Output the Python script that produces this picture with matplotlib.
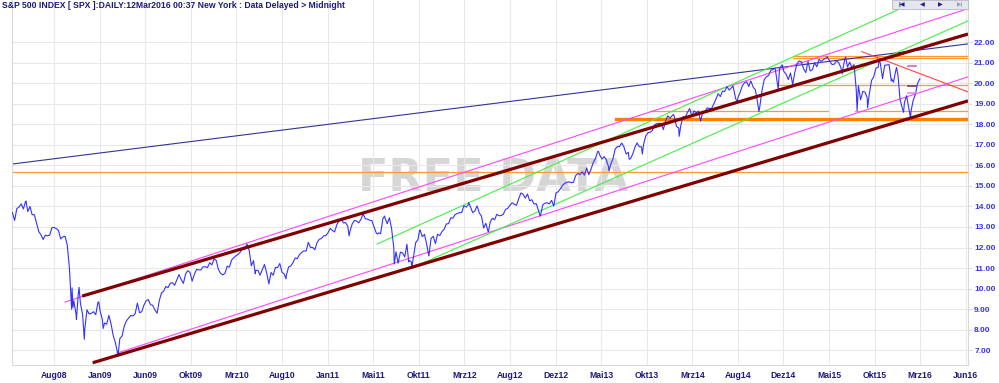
import numpy as np
import pandas as pd
from matplotlib import pyplot as plt
from matplotlib.patches import Rectangle

plt.rcParams['font.family'] = ['Liberation Sans', 'DejaVu Sans']

# S&P 500 weekly closes (Fridays), index points
spx_first_friday = '2008-04-04'
spx_2008 = [1370, 1332, 1390, 1397, 1413, 1388, 1425, 1375, 1400, 1360, 1360, 1318, 1278,
            1262, 1239, 1260, 1257, 1260, 1296, 1298, 1292, 1283, 1242, 1252, 1255, 1213,
            1099, 899, 940, 877, 968, 930, 873, 800, 896, 876, 879, 887, 872]
spx_2009 = [932, 890, 850, 832, 826, 869, 827, 770, 735, 683, 756, 768, 816, 842, 856, 869, 866,
            877, 929, 882, 887, 919, 940, 946, 921, 918, 896, 879, 940, 979, 987, 1010, 1004,
            1026, 1028, 1016, 1042, 1068, 1044, 1025, 1071, 1087, 1079, 1036, 1069, 1093, 1091,
            1091, 1106, 1106, 1102, 1126]
spx_2010 = [1115, 1145, 1136, 1092, 1074, 1066, 1075, 1109, 1104, 1139, 1150, 1160, 1167, 1178,
            1194, 1192, 1217, 1187, 1111, 1136, 1088, 1089, 1065, 1092, 1117, 1076, 1023, 1078,
            1065, 1103, 1102, 1122, 1079, 1071, 1065, 1105, 1110, 1126, 1149, 1146, 1166, 1176,
            1183, 1183, 1225, 1200, 1200, 1189, 1225, 1240, 1244, 1257, 1258]
spx_2011 = [1272, 1293, 1283, 1276, 1311, 1329, 1343, 1320, 1321, 1304, 1279, 1314, 1332, 1329,
            1320, 1337, 1364, 1340, 1338, 1333, 1331, 1300, 1271, 1271, 1268, 1340, 1344, 1316,
            1345, 1292, 1199, 1179, 1124, 1177, 1174, 1154, 1216, 1136, 1131, 1155, 1224, 1238,
            1285, 1253, 1264, 1216, 1159, 1244, 1255, 1219, 1265, 1258]
spx_2012 = [1278, 1289, 1315, 1316, 1345, 1343, 1361, 1366, 1370, 1371, 1404, 1397, 1408, 1398,
            1370, 1378, 1403, 1369, 1353, 1295, 1318, 1278, 1325, 1343, 1335, 1362, 1355, 1356,
            1363, 1386, 1391, 1406, 1418, 1411, 1406, 1438, 1466, 1460, 1441, 1461, 1428, 1433,
            1412, 1414, 1380, 1359, 1409, 1416, 1418, 1413, 1430, 1402]
spx_2013 = [1466, 1472, 1486, 1503, 1513, 1518, 1520, 1516, 1518, 1551, 1561, 1556, 1569, 1553,
            1588, 1555, 1582, 1614, 1634, 1667, 1650, 1631, 1643, 1627, 1593, 1606, 1632, 1680,
            1692, 1692, 1710, 1691, 1656, 1664, 1633, 1655, 1688, 1710, 1692, 1691, 1704, 1745,
            1760, 1762, 1771, 1798, 1804, 1806, 1805, 1775, 1818, 1842]
spx_2014 = [1831, 1843, 1839, 1790, 1783, 1797, 1838, 1836, 1859, 1878, 1841, 1866, 1857, 1865,
            1816, 1864, 1863, 1881, 1878, 1878, 1900, 1924, 1950, 1936, 1963, 1961, 1985, 1968,
            1978, 1978, 1925, 1931, 1955, 1988, 2003, 2008, 1985, 2010, 1982, 1968, 1906, 1887,
            1965, 2018, 2032, 2039, 2064, 2068, 2075, 2003, 2071, 2089]
spx_2015 = [2058, 2045, 2019, 2051, 1995, 2055, 2097, 2110, 2105, 2071, 2053, 2108, 2061, 2067,
            2102, 2081, 2117, 2108, 2116, 2123, 2126, 2107, 2092, 2094, 2110, 2102, 2077, 2077,
            2127, 2080, 2104, 2078, 2092, 1971, 1989, 1921, 1961, 1958, 1931, 1951, 2015, 2033,
            2075, 2079, 2099, 2023, 2089, 2090, 2092, 2012, 2006, 2061]
spx_2016 = [2044, 1922, 1880, 1907, 1940, 1880, 1865, 1918, 1948, 2000, 2022]

# daily highs/lows between the weekly closes
spx_daily_extremes = [
    ('2008-05-19', 1426.6), ('2008-10-13', 1003.4), ('2008-10-15', 907.8), ('2008-10-27', 848.9),
    ('2008-11-04', 1005.8), ('2008-11-20', 752.4), ('2009-01-06', 934.7), ('2009-01-20', 805.2),
    ('2009-03-09', 676.5), ('2009-07-10', 879.1), ('2010-04-23', 1217.3), ('2010-05-06', 1128.2),
    ('2010-05-20', 1071.6), ('2010-07-02', 1022.6), ('2010-08-26', 1047.2), ('2011-03-16', 1256.9),
    ('2011-06-15', 1265.4), ('2011-07-07', 1353.2), ('2011-08-08', 1119.5), ('2011-08-19', 1123.5),
    ('2011-09-22', 1129.6), ('2011-10-03', 1099.2), ('2011-10-27', 1284.6), ('2011-11-25', 1158.7),
    ('2012-04-02', 1419.0), ('2012-06-04', 1278.2), ('2012-09-14', 1465.8), ('2012-11-15', 1353.3),
    ('2013-05-21', 1669.2), ('2013-06-24', 1573.1), ('2013-08-02', 1709.7), ('2013-08-27', 1630.5),
    ('2013-10-08', 1655.5), ('2014-01-15', 1848.4), ('2014-02-03', 1741.9), ('2014-04-11', 1815.7),
    ('2014-07-24', 1988.0), ('2014-08-07', 1909.6), ('2014-09-18', 2011.4), ('2014-10-15', 1862.5),
    ('2014-12-16', 1972.7), ('2014-12-29', 2090.6), ('2015-05-21', 2130.8), ('2015-07-08', 2046.7),
    ('2015-07-20', 2128.3), ('2015-08-25', 1867.6), ('2015-09-28', 1881.8), ('2015-11-03', 2109.8),
    ('2015-12-14', 2021.9), ('2015-12-29', 2078.4), ('2016-01-20', 1859.3), ('2016-02-11', 1829.1),
]

# x axis counts business days, one grid line every 104 of them
tick_origin = '2008-08-15'
tick_step = 104
tick_labels = ['Aug08', 'Jan09', 'Jun09', 'Okt09', 'Mrz10', 'Aug10', 'Jan11', 'Mai11', 'Okt11',
               'Mrz12', 'Aug12', 'Dez12', 'Mai13', 'Okt13', 'Mrz14', 'Aug14', 'Dez14', 'Mai15',
               'Okt15', 'Mrz16', 'Jun16']
y_ticks = list(range(7, 23))
x_start, x_end = '2008-04-03', '2016-08-12'
y_min, y_max = 6.27, 24.07

# drawn trend lines: (start date, value, end date, value)
navy_lines = [('2008-04-03', 16.07, '2016-08-12', 21.93)]
maroon_lines = [('2008-11-13', 9.63, '2016-08-12', 22.41),
                ('2008-12-17', 6.38, '2016-08-12', 19.15)]
magenta_lines = [('2008-09-19', 9.34, '2016-08-12', 23.65),
                 ('2009-03-05', 6.85, '2016-08-12', 20.32)]
green_lines = [('2011-06-14', 12.17, '2016-08-12', 25.13),
               ('2011-10-06', 11.03, '2016-08-12', 23.05)]
red_lines = [('2015-09-09', 21.55, '2016-08-12', 19.59)]
# horizontal levels: (value, from, to)
orange_levels = [(15.68, '2008-04-03', '2016-08-12'), (21.33, '2015-01-30', '2016-08-12'),
                 (21.24, '2015-01-30', '2016-08-12'), (19.93, '2014-12-11', '2016-08-12'),
                 (18.67, '2013-10-31', '2015-05-22'), (18.67, '2015-08-18', '2016-08-12')]
orange_thick_levels = [(18.27, '2013-07-17', '2016-08-12')]
marker_levels = [(20.85, '#cc66cc'), (19.88, '#993344'), (19.52, '#ee88ee')]
marker_span = ('2016-02-03', '2016-02-29')

title = 'S&P 500 INDEX [ SPX ]:DAILY:12Mar2016 00:37 New York : Data Delayed > Midnight'


def xpos(dates):
    d = np.array(dates, dtype='datetime64[D]')
    return np.busday_count(np.datetime64(tick_origin), d)


def main():
    weekly = spx_2008 + spx_2009 + spx_2010 + spx_2011 + spx_2012 + spx_2013 + spx_2014 + spx_2015 + spx_2016
    s = pd.Series(weekly, index=pd.date_range(spx_first_friday, periods=len(weekly), freq='7D'), dtype=float)
    e = pd.Series([v for _, v in spx_daily_extremes],
                  index=pd.to_datetime([d for d, _ in spx_daily_extremes]))
    s = pd.concat([s, e])
    s = s[~s.index.duplicated(keep='last')].sort_index()

    fig = plt.figure(figsize=(9.99, 3.83), dpi=100, facecolor='w')
    ax = fig.add_axes([12 / 999, 18 / 383, 956 / 999, 365 / 383])
    ax.set_xlim(xpos(x_start), xpos(x_end))
    ax.set_ylim(y_min, y_max)

    ax.text(0.503, 0.512, 'FREE DATA', transform=ax.transAxes, ha='center', va='center',
            fontsize=32, fontweight='bold', color='#d6d6d6', family='DejaVu Sans', zorder=0.5)

    for v, a, b in orange_levels:
        ax.plot(xpos([a, b]), [v, v], color='#ff9933', lw=0.9, zorder=2)
    for v, a, b in orange_thick_levels:
        ax.plot(xpos([a, b]), [v, v], color='#ff8000', lw=2.4, zorder=2)

    ax.plot(xpos(s.index.values.astype('datetime64[D]')), s.values / 100,
            color='#3333ff', lw=0.8, zorder=3)

    for a, va, b, vb in navy_lines:
        ax.plot(xpos([a, b]), [va, vb], color='#333399', lw=0.8, zorder=2.5)
    for a, va, b, vb in magenta_lines:
        ax.plot(xpos([a, b]), [va, vb], color='#ff44ff', lw=0.8, zorder=2.5)
    for a, va, b, vb in green_lines:
        ax.plot(xpos([a, b]), [va, vb], color='#44ee44', lw=0.8, zorder=2.5)
    for a, va, b, vb in red_lines:
        ax.plot(xpos([a, b]), [va, vb], color='#ff4444', lw=0.8, zorder=2.5)
    for a, va, b, vb in maroon_lines:
        ax.plot(xpos([a, b]), [va, vb], color='#800000', lw=2.3, zorder=4, solid_capstyle='butt')
    for v, c in marker_levels:
        ax.plot(xpos(list(marker_span)), [v, v], color=c, lw=1.2, zorder=4)

    ax.set_xticks([tick_step * k for k in range(len(tick_labels))])
    ax.set_xticklabels(tick_labels)
    ax.set_yticks(y_ticks)
    ax.set_yticklabels(['%.2f' % v for v in y_ticks])
    ax.yaxis.tick_right()
    ax.tick_params(axis='x', length=0, pad=4.2, labelsize=6.2, labelcolor='#1a1a80')
    ax.tick_params(axis='y', length=2.9, pad=1.5, labelsize=6.0, labelcolor='#3333ee', color='#dddddd')
    for lab in ax.get_xticklabels() + ax.get_yticklabels():
        lab.set_fontweight('bold')
    ax.grid(True, color='#e8e8e8', lw=0.75)
    ax.set_axisbelow(True)
    ax.spines['top'].set_visible(False)
    for side in ('left', 'bottom', 'right'):
        ax.spines[side].set_color('#d8d8d8')
        ax.spines[side].set_linewidth(0.75)

    fig.text(2 / 999, 1 - 6 / 383, title, ha='left', va='center', fontsize=6.25,
             fontweight='bold', color='#1a1a80')

    # navigation buttons top right
    fig.patches.append(Rectangle((892 / 999, 1 - 9 / 383), 76 / 999, 9 / 383, transform=fig.transFigure,
                                 facecolor='#e6e6ee', edgecolor='#b8b8c8', lw=0.6))
    for x, t, c in [(902, '|\u25c0', '#1a1a8c'), (922, '\u25c0', '#1a1a8c'),
                    (940, '\u25b6', '#1a1a8c'), (960, '\u25b6|', '#a0a0b0')]:
        fig.text(x / 999, 1 - 4.5 / 383, t, ha='center', va='center', fontsize=4.5, color=c,
                 fontweight='bold')

    plt.savefig('out.png', dpi=100, facecolor='w')


if __name__ == '__main__':
    main()
